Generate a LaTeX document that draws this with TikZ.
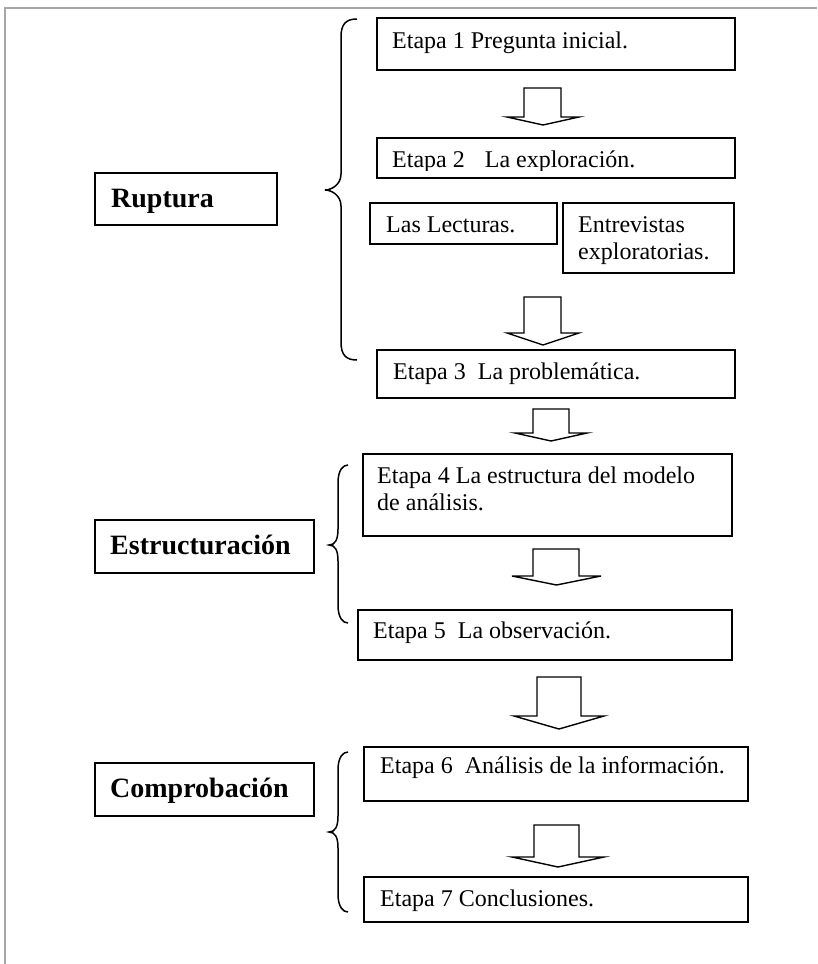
\documentclass[tikz,border=0pt]{standalone}
\usepackage{fontspec}
\setmainfont{Liberation Serif}
\newcommand\mybrace[6]{% ends x, line x, tip x, top y, tip y, bottom y
  \draw[brc] (#1,#4) .. controls (#2+5,#4) and (#2,#4+5) .. (#2,#4+18)
    -- (#2,#5-16) .. controls (#2,#5-5) and (#3+6,#5) .. (#3,#5)
    .. controls (#3+6,#5) and (#2,#5+5) .. (#2,#5+16)
    -- (#2,#6-18) .. controls (#2,#6-5) and (#2+5,#6) .. (#1,#6);}
\newcommand\blockarr[7]{% stem left, stem right, top, base, wing left, wing right, tip y
  \draw[blk] (#1,#3) -- (#2,#3) -- (#2,#4) -- (#6,#4) -- ({(#5+#6)/2},#7) -- (#5,#4) -- (#1,#4) -- cycle;}
\begin{document}
\begin{tikzpicture}[x=1pt,y=-1pt,
  box/.style={draw=black, line width=1.8pt, inner sep=0pt, anchor=north west},
  txt/.style={inner sep=0pt, anchor=base west, font=\fontsize{24}{27}\selectfont},
  btxt/.style={inner sep=0pt, anchor=base west, font=\fontsize{28}{32}\selectfont\bfseries},
  blk/.style={draw=black, line width=1.4pt, line join=miter},
  brc/.style={draw=black, line width=1.5pt},
  framel/.style={draw=black!35, line width=1.5pt}]
\useasboundingbox (0,0) rectangle (817,964);
\draw[framel] (5,964) -- (5,8) -- (817,8);

% left category boxes
\node[box, minimum width=182pt, minimum height=52pt] (rup) at (94,172) {};
\node[btxt] (ruptxt) at (111,207) {Ruptura};
\node[box, minimum width=219pt, minimum height=53pt] (est) at (94,519) {};
\node[btxt] (esttxt) at (110,554) {Estructuración};
\node[box, minimum width=219pt, minimum height=53pt] (com) at (94,762) {};
\node[btxt] (comtxt) at (110,797) {Comprobación};

% stage boxes
\node[box, minimum width=358pt, minimum height=52pt] (e1) at (376,17) {};
\node[txt] (e1t) at (392,48) {Etapa 1 Pregunta inicial.};
\node[box, minimum width=358pt, minimum height=40pt] (e2) at (376,137) {};
\begin{scope}
  \clip (376,137) rectangle (734,170);
  \node[txt] (e2t) at (392,167) {Etapa 2\hspace{20pt}La exploración.};
\end{scope}
\node[box, minimum width=187pt, minimum height=41pt] (lec) at (369,202) {};
\node[txt] (lect) at (386,232) {Las Lecturas.};
\node[box, minimum width=171pt, minimum height=70pt] (ent) at (562,202) {};
\node[txt] (entt1) at (578,232) {Entrevistas};
\node[txt] (entt2) at (578,259) {exploratorias.};
\node[box, minimum width=358pt, minimum height=48pt] (e3) at (376,349) {};
\node[txt] (e3t) at (393,379) {Etapa 3\hspace{12pt}La problemática.};
\node[box, minimum width=369pt, minimum height=82pt] (e4) at (362,453) {};
\node[txt] (e4t1) at (377,483) {Etapa 4 La estructura del modelo};
\node[txt] (e4t2) at (377,510) {de análisis.};
\node[box, minimum width=374pt, minimum height=50pt] (e5) at (357,609) {};
\node[txt] (e5t) at (373,638) {Etapa 5\hspace{12pt}La observación.};
\node[box, minimum width=384pt, minimum height=54pt] (e6) at (363,746) {};
\node[txt] (e6t) at (380,773) {Etapa 6\hspace{12pt}Análisis de la información.};
\node[box, minimum width=384pt, minimum height=45pt] (e7) at (363,876) {};
\node[txt] (e7t) at (380,906) {Etapa 7 Conclusiones.};

% block arrows
\blockarr{524}{561}{88}{117}{507}{579}{125}
\blockarr{524}{561}{297}{333}{507}{579}{345}
\blockarr{533}{569}{409}{433}{515}{587}{441}
\blockarr{533}{579}{549}{576}{512}{601}{585}
\blockarr{537}{581}{677}{716}{514}{604}{729}
\blockarr{534}{579}{825}{857}{512}{604}{867}

% braces
\mybrace{357}{341}{325}{19}{190}{360}
\mybrace{348}{338}{329}{465}{545}{623}
\mybrace{348}{338}{329}{752}{832}{912}
\end{tikzpicture}
\end{document}
